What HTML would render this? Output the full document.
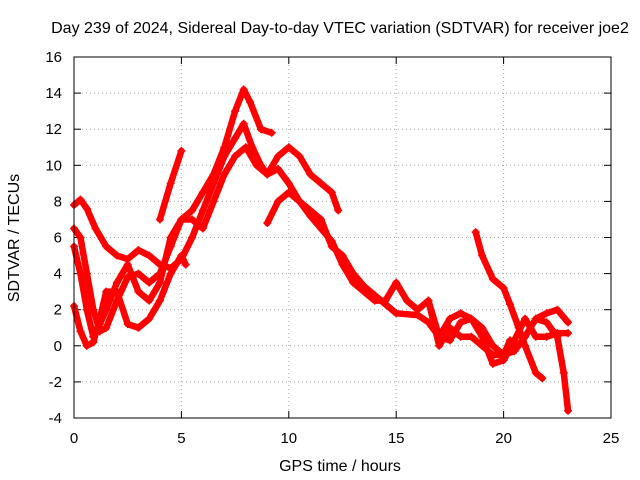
<!DOCTYPE html>
<html><head><meta charset="utf-8"><style>
body{margin:0;background:#fff}
svg{display:block;font-family:"Liberation Sans",sans-serif}
</style></head><body>
<svg id="c" width="640" height="480">
<text x="340" y="33" text-anchor="middle" font-size="16">Day 239 of 2024, Sidereal Day-to-day VTEC variation (SDTVAR) for receiver joe2</text>
<text x="340" y="471" text-anchor="middle" font-size="16">GPS time / hours</text>
<text transform="translate(19,238) rotate(-90)" text-anchor="middle" font-size="16">SDTVAR / TECUs</text>
<g id="grid"></g><g id="ticks"></g><g id="series"></g>
<rect x="74" y="57" width="537" height="361" fill="none" stroke="#000"/>
</svg>
<script>
const xTicks=[0,5,10,15,20,25];
const yTicks=[-4,-2,0,2,4,6,8,10,12,14,16];
const s1=[[0,7.8],[0.3,8.1],[0.6,7.6],[1,6.5],[1.5,5.5],[2,5],[2.5,4.8],[3,5.3],[3.5,5],[4,4.5],[4.5,4.3],[5,4.8],[5.5,6],[6,7.5],[6.5,9],[7,10.5],[7.5,11.5],[7.9,12.3],[8.3,11],[8.7,10],[9,9.5],[9.5,9.8],[10,9],[10.5,8],[11,7.5],[11.5,7],[12,5.5],[12.5,5],[13,4],[13.5,3.3],[14,2.8],[14.5,2.3],[15,1.8],[16,1.7],[16.5,1.3],[17,0.5],[17.5,0.3],[18,1.3],[18.5,1.5],[19,1],[19.5,0],[20,-0.5],[20.5,-0.3],[21,0.5],[21.5,1.5],[22,1.8],[22.5,2],[23,1.3]];
const s2=[[0,6.5],[0.3,6],[0.6,4],[0.9,2],[1.2,0.8],[1.5,1],[2,2.5],[2.5,3.8],[3,4],[3.5,3.5],[4,4],[4.5,5.5],[5,7],[5.5,7.5],[6,8.5],[6.5,9.5],[7,11],[7.5,13],[7.9,14.2],[8.2,13.5],[8.7,12],[9.2,11.8]];
const s3=[[0,5.5],[0.3,4],[0.6,2],[0.9,0.5],[1.2,1.2],[1.5,2],[2,3.5],[2.5,4.5],[3,3],[3.5,2.5],[4,3.5],[4.5,6],[5,7],[5.5,7],[6,6.5],[6.5,8],[7,9.5],[7.5,10.5],[8,11],[8.5,10],[9,9.5],[9.5,10.5],[10,11],[10.5,10.5],[11,9.5],[11.5,9],[12,8.5],[12.3,7.5]];
const s4=[[0,2.2],[0.3,0.8],[0.6,0],[0.9,0.2],[1.2,1.5],[1.5,3],[2,3],[2.5,1.2],[3,1],[3.5,1.5],[4,2.5],[4.5,4],[5,5],[5.2,4.5]];
const s5=[[4,7],[4.5,9],[5,10.8]];
const s6=[[9,6.8],[9.5,8],[10,8.5],[10.5,8],[11,7.2],[11.5,6.5],[12,5.8],[12.5,4.5],[13,3.5],[13.5,3],[14,2.5],[14.5,2.5],[15,3.5],[15.5,2.5],[16,2],[16.5,2.5],[17,0],[17.5,1],[18,0.5],[18.5,0.5],[19,0],[19.5,-0.5],[20,-0.5],[20.3,0.3]];
const s7=[[18.7,6.3],[19,5],[19.5,3.7],[20,3.2],[20.3,2.3],[20.7,1],[21,0],[21.5,-1.5],[21.8,-1.8]];
const s8=[[21.5,1.5],[22,1.3],[22.5,0.5],[22.8,-1.5],[23,-3.6]];
const s9=[[16.5,2.5],[17,0.5],[17.5,1.5],[18,1.8],[18.5,1.5],[19,0.5],[19.5,-1],[20,-0.8],[20.5,0.3],[21,1.5],[21.5,0.5],[22,0.5],[22.5,0.7],[23,0.7]];
const allSeries=[s1,s2,s3,s4,s5,s6,s7,s8,s9];
const NS="http://www.w3.org/2000/svg";
const X=v=>74+v*537/25, Y=v=>418-(v+4)*361/20;
function mk(t,a,p){const e=document.createElementNS(NS,t);for(const k in a)e.setAttribute(k,a[k]);p.appendChild(e);return e;}
const g=document.getElementById('grid'),tk=document.getElementById('ticks'),sg=document.getElementById('series');
xTicks.forEach(v=>{
 if(v>0&&v<25){const l=mk('line',{x1:X(v),x2:X(v),y1:57,y2:418,stroke:'#aaa','stroke-dasharray':'1,3'},g);
 
 }
 mk('line',{x1:X(v),x2:X(v),y1:418,y2:411,stroke:'#000'},tk);
 mk('line',{x1:X(v),x2:X(v),y1:57,y2:64,stroke:'#000'},tk);
 const t=mk('text',{x:X(v),y:443,'text-anchor':'middle','font-size':15},tk);t.textContent=v;
 
 
});
yTicks.forEach(v=>{
 if(v>-4&&v<16){const l=mk('line',{x1:74,x2:611,y1:Y(v),y2:Y(v),stroke:'#aaa','stroke-dasharray':'1,3'},g);
 
 }
 mk('line',{x1:74,x2:81,y1:Y(v),y2:Y(v),stroke:'#000'},tk);
 mk('line',{x1:611,x2:604,y1:Y(v),y2:Y(v),stroke:'#000'},tk);
 const t=mk('text',{x:62,y:Y(v)+5,'text-anchor':'end','font-size':15},tk);t.textContent=v;
 
 
});
allSeries.forEach((s,i)=>{
 const p=mk('polyline',{points:s.map(d=>X(d[0])+','+Y(d[1])).join(' '),fill:'none',stroke:'#f00','stroke-width':6.5,'stroke-linejoin':'round','stroke-linecap':'round'},sg);
 
 
 s.forEach(d=>{
  const m=mk('path',{d:`M${X(d[0])-4},${Y(d[1])}h8M${X(d[0])},${Y(d[1])-4}v8`,stroke:'#f00','stroke-width':1.5},sg);
  
  
 });
});
</script>
</body></html>
